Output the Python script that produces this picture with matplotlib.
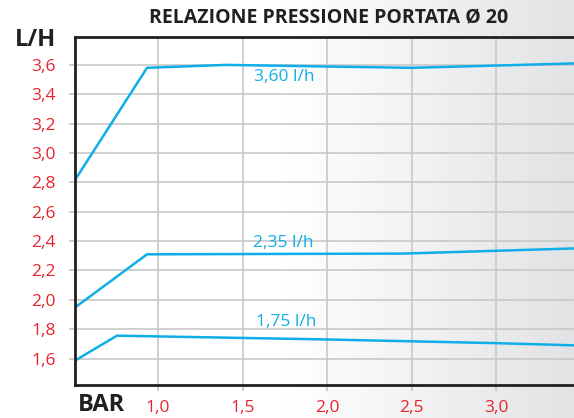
import numpy as np
import matplotlib.pyplot as plt
from matplotlib.colors import LinearSegmentedColormap

# data
x_top = [0.5, 0.935, 1.4, 2.5, 3.46]
y_top = [2.80, 3.58, 3.60, 3.58, 3.61]
x_mid = [0.5, 0.935, 2.45, 3.46]
y_mid = [1.94, 2.31, 2.315, 2.35]
x_low = [0.5, 0.757, 2.0, 3.0, 3.46]
y_low = [1.58, 1.756, 1.73, 1.705, 1.69]
labels = ['3,60 l/h', '2,35 l/h', '1,75 l/h']
label_pos = [(1.57, 3.52), (1.56, 2.39), (1.58, 1.85)]

xticks = [1.0, 1.5, 2.0, 2.5, 3.0]
yticks = [1.6, 1.8, 2.0, 2.2, 2.4, 2.6, 2.8, 3.0, 3.2, 3.4, 3.6]

blue = '#10aee8'
red = '#e8232e'
dark = '#231f20'
plt.rcParams['font.family'] = ['Open Sans', 'DejaVu Sans']

fig = plt.figure(figsize=(5.74, 4.18), dpi=100)

# background gradient, white on the left to light grey on the right
bg = fig.add_axes([0, 0, 1, 1], zorder=-1)
cmap = LinearSegmentedColormap.from_list('bg', [(0, '#ffffff'), (0.5, '#ffffff'), (1, '#e2e3e5')])
bg.imshow(np.linspace(0, 1, 300).reshape(1, -1), aspect='auto', cmap=cmap, extent=[0, 1, 0, 1])
bg.axis('off')

ax = fig.add_axes([75 / 574, 33 / 418, 499 / 574, 348 / 418])
ax.set_facecolor('none')
ax.plot(x_top, y_top, color=blue, lw=1.8)
ax.plot(x_mid, y_mid, color=blue, lw=1.8)
ax.plot(x_low, y_low, color=blue, lw=1.8)
for t, (px, py) in zip(labels, label_pos):
    ax.text(px, py, t, color=blue, fontsize=12.5, ha='left', va='center')

ax.set_xlim(0.509, 3.46)
ax.set_ylim(1.42, 3.79)
ax.set_xticks(xticks)
ax.set_yticks(yticks)
ax.set_xticklabels([f'{v:.1f}'.replace('.', ',') for v in xticks])
ax.set_yticklabels([f'{v:.1f}'.replace('.', ',') for v in yticks])
ax.tick_params(colors='#c4c4c4', labelcolor=red, labelsize=12.5, length=4, width=1.2)
ax.tick_params(axis='x', pad=7)
ax.tick_params(axis='y', pad=10)
ax.grid(True, color='#c8c8c8', lw=1.2)
ax.set_axisbelow(True)
for s in ['left', 'bottom', 'top']:
    ax.spines[s].set_color(dark)
    ax.spines[s].set_linewidth(2)
ax.spines['right'].set_visible(False)

fig.text(0.573, 0.955, 'RELAZIONE PRESSIONE PORTATA Ø 20', ha='center', va='center',
         fontsize=14, fontweight='bold', color=dark)
fig.text(0.061, 0.905, 'L/H', ha='center', va='center', fontsize=17, fontweight='bold', color=dark)
fig.text(0.177, 0.03, 'BAR', ha='center', va='center', fontsize=17, fontweight='bold', color=dark)

fig.savefig('out.png', dpi=100)
